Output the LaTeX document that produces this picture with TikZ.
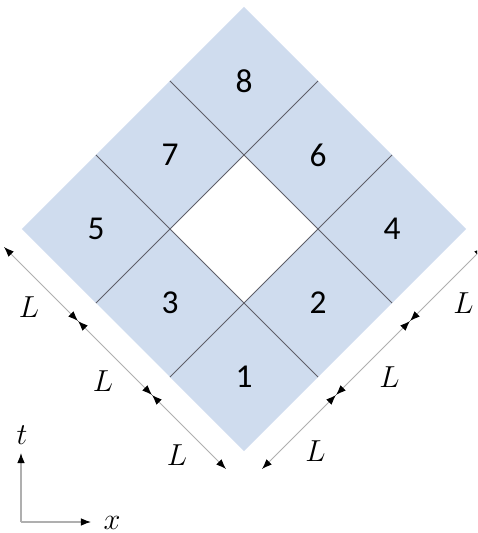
\documentclass[tikz,border=0pt]{standalone}
\usepackage{fontspec}
\newfontfamily\cellfont{Carlito}
\usepackage{xcolor}
\usetikzlibrary{arrows.meta,shapes.geometric,calc}
\definecolor{cellblue}{RGB}{207,220,238}
\definecolor{gridgray}{RGB}{95,95,105}
\definecolor{dimgray}{RGB}{175,175,175}
\tikzset{
  cell/.style    = {diamond, aspect=1, fill=cellblue, draw=none, inner sep=0pt, outer sep=0pt,
                    minimum width=2.96cm, minimum height=2.96cm,
                    font=\cellfont\fontsize{19}{22}\selectfont},
  gridline/.style = {draw=gridgray, line width=0.5pt},
  dim/.style     = {{Latex[length=2mm, width=1.5mm, color=black]}-{Latex[length=2mm, width=1.5mm, color=black]},
                    draw=dimgray, line width=0.5pt},
  axis/.style    = {-{Latex[length=2mm, width=1.5mm, color=black]}, draw=dimgray, line width=0.6pt},
  lab/.style     = {font=\fontsize{17}{20}\selectfont, inner sep=0pt},
  dimL/.style    = {lab, midway, xshift=-0.24cm, yshift=-0.46cm},
  dimR/.style    = {lab, midway, xshift=0.33cm, yshift=-0.38cm},
}
\begin{document}
\begin{tikzpicture}
  \useasboundingbox (-4.88,-6.08) rectangle (4.66,4.58);
  \clip (-4.88,-6.08) rectangle (4.66,4.58);

  % the eight cells
  \node[cell] (c1) at (0,-2.96)     {1};
  \node[cell] (c2) at (1.48,-1.48)  {2};
  \node[cell] (c3) at (-1.48,-1.48) {3};
  \node[cell] (c4) at (2.96,0)      {4};
  \node[cell] (c5) at (-2.96,0)     {5};
  \node[cell] (c6) at (1.48,1.48)   {6};
  \node[cell] (c7) at (-1.48,1.48)  {7};
  \node[cell] (c8) at (0,2.96)      {8};

  % inner grid lines
  \draw[gridline] (c5.north) -- (c2.south);
  \draw[gridline] (c4.south) -- (c8.west);
  \draw[gridline] (c5.south) -- (c8.east);
  \draw[gridline] (c1.west)  -- (c4.north);

  % dimension lines
  \coordinate (l0) at ($(c5.west)+(-0.36,-0.36)$);
  \coordinate (l1) at ($(c5.south)+(-0.36,-0.36)$);
  \coordinate (l2) at ($(c1.west)+(-0.36,-0.36)$);
  \coordinate (l3) at ($(c1.south)+(-0.36,-0.36)$);
  \coordinate (r0) at ($(c1.south)+(0.36,-0.36)$);
  \coordinate (r1) at ($(c1.east)+(0.36,-0.36)$);
  \coordinate (r2) at ($(c2.east)+(0.36,-0.36)$);
  \coordinate (r3) at ($(c4.east)+(0.36,-0.36)$);
  \draw[dim] (l0) -- (l1) node[dimL] (lL1) {$L$};
  \draw[dim] (l1) -- (l2) node[dimL] (lL2) {$L$};
  \draw[dim] (l2) -- (l3) node[dimL] (lL3) {$L$};
  \draw[dim] (r0) -- (r1) node[dimR] (rL1) {$L$};
  \draw[dim] (r1) -- (r2) node[dimR] (rL2) {$L$};
  \draw[dim] (r2) -- (r3) node[dimR] (rL3) {$L$};

  % axes
  \coordinate (o)  at (-4.46,-5.86);
  \coordinate (tt) at (-4.46,-4.48);
  \coordinate (xt) at (-3.06,-5.86);
  \draw[axis] (o) -- (tt);
  \draw[axis] (o) -- (xt);
  \node[lab] (tlab) at (-4.44,-4.12) {$t$};
  \node[lab] (xlab) at (-2.64,-5.88) {$x$};
\end{tikzpicture}
\end{document}
